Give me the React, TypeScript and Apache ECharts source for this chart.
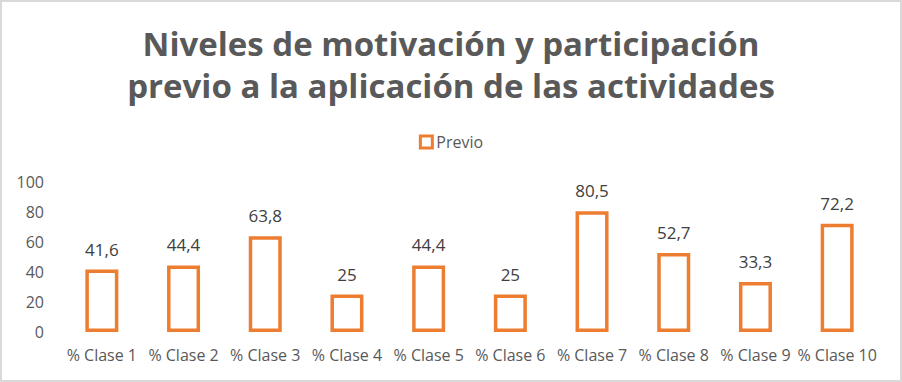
import React, { useEffect, useRef } from "react";
import * as echarts from "echarts";

const categories = ["% Clase 1", "% Clase 2", "% Clase 3", "% Clase 4", "% Clase 5", "% Clase 6", "% Clase 7", "% Clase 8", "% Clase 9", "% Clase 10"];
const previo = [41.6, 44.4, 63.8, 25, 44.4, 25, 80.5, 52.7, 33.3, 72.2];
const seriesName = "Previo";
const titleText = "Niveles de motivación y participación\nprevio a la aplicación de las actividades";

const FONT = "'Open Sans', 'Noto Sans', sans-serif";

export default function App() {
  const ref = useRef<HTMLDivElement>(null);
  useEffect(() => {
    const chart = echarts.init(ref.current!, null, { renderer: "svg" });
    chart.setOption({
      animation: false,
      backgroundColor: "#fff",
      title: {
        text: titleText,
        left: "center",
        top: 15,
        textStyle: {
          fontFamily: FONT,
          fontSize: 33,
          fontWeight: "bold",
          color: "#595959",
          lineHeight: 42,
        },
      },
      legend: {
        data: [seriesName],
        top: 127,
        left: "center",
        icon: "rect",
        itemWidth: 12,
        itemHeight: 12,
        itemGap: 4,
        textStyle: { fontFamily: FONT, fontSize: 16, color: "#595959", padding: [0, 0, 0, -1] },
        itemStyle: { color: "#fff", borderColor: "#ED7D31", borderWidth: 3 },
      },
      grid: { left: 59, right: 22, top: 180, bottom: 48, containLabel: false },
      xAxis: {
        type: "category",
        data: categories,
        axisLine: { show: false },
        axisTick: { show: false },
        axisLabel: { fontFamily: FONT, fontSize: 16, color: "#595959", margin: 15, interval: 0 },
      },
      yAxis: {
        type: "value",
        min: 0,
        max: 100,
        interval: 20,
        splitLine: { show: false },
        axisLine: { show: false },
        axisTick: { show: false },
        axisLabel: { fontFamily: FONT, fontSize: 16, color: "#595959", margin: 17 },
      },
      series: [
        {
          name: seriesName,
          type: "bar",
          data: previo,
          barWidth: 33,
          itemStyle: { color: "#fff", borderColor: "#ED7D31", borderWidth: 3.5 },
          label: {
            show: true,
            position: "top",
            distance: 12,
            fontFamily: FONT,
            fontSize: 17,
            color: "#404040",
            formatter: (p: any) => String(p.value).replace(".", ","),
          },
        },
      ],
    });
    return () => chart.dispose();
  }, []);
  return (
    <div style={{ position: "fixed", left: 0, top: 0, width: 902, height: 382, boxSizing: "border-box", border: "2px solid #D9D9D9", background: "#fff" }}>
      <div ref={ref} style={{ width: 898, height: 378 }} />
    </div>
  );
}
